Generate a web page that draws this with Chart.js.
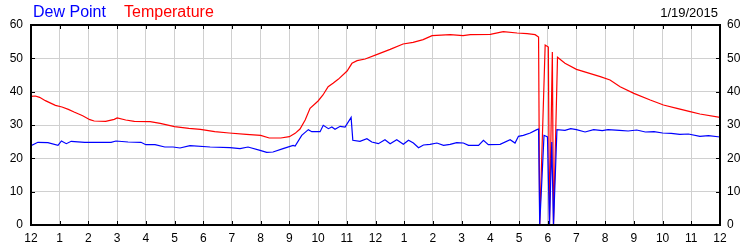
<!DOCTYPE html>
<html>
<head>
<meta charset="utf-8">
<script src="https://cdn.jsdelivr.net/npm/chart.js@4"></script>
<style>
  body { margin: 0; background: #fff; }
  #wrap { position: relative; width: 750px; height: 250px; }
  .lbl { position: absolute; font-family: "Liberation Sans", Arial, sans-serif; white-space: nowrap; }
  #dew { left: 33px; top: 4px; font-size: 16px; line-height: 16px; color: #0000ff; }
  #temp { left: 124px; top: 4px; font-size: 16px; line-height: 16px; color: #ff0000; }
  #date { right: 32px; top: 6px; font-size: 13px; line-height: 13px; color: #000; }
</style>
</head>
<body>
<div id="wrap">
  <canvas id="chart" width="750" height="250"></canvas>
  <div class="lbl" id="dew">Dew Point</div>
  <div class="lbl" id="temp">Temperature</div>
  <div class="lbl" id="date">1/19/2015</div>
</div>
<script>
// Tick labels
const hourLabels = ['12', '1', '2', '3', '4', '5', '6', '7', '8', '9', '10', '11',
  '12', '1', '2', '3', '4', '5', '6', '7', '8', '9', '10', '11', '12'];
const yTicks = [0, 10, 20, 30, 40, 50, 60];

// Temperature series (hours since midnight, °F)
const tempHours = [0, 0.15, 0.3, 0.5, 0.85, 1.08, 1.3, 1.5, 1.8, 2.05, 2.2, 2.6, 2.9, 3.0,
  3.3, 3.6, 4.15, 4.5, 5.0, 5.5, 5.9, 6.4, 6.9, 7.5, 8.0, 8.3, 8.7, 9.0, 9.2, 9.37, 9.55,
  9.72, 10.0, 10.17, 10.35, 10.52, 10.7, 11.01, 11.18, 11.36, 11.64, 12.06, 12.51, 12.96,
  13.31, 13.66, 13.97, 14.6, 15.05, 15.3, 16.0, 16.45, 16.93, 17.28, 17.56, 17.68, 17.72,
  17.91, 18.02, 18.06, 18.16, 18.2, 18.34, 18.6, 19.0, 19.83, 20.17, 20.52, 21.0, 21.57,
  22.03, 22.5, 22.96, 23.3, 24];
const tempValues = [38.6, 38.7, 38.3, 37.3, 35.9, 35.4, 34.7, 33.9, 32.8, 31.6, 31.2, 31.1,
  31.7, 32.1, 31.5, 31.1, 31.0, 30.5, 29.5, 29.0, 28.7, 28.0, 27.6, 27.2, 26.9, 26.1, 26.1,
  26.5, 27.5, 28.8, 31.5, 35.0, 37.2, 39.0, 41.5, 42.5, 43.7, 46.2, 48.5, 49.3, 49.8, 51.2,
  52.7, 54.3, 54.8, 55.6, 56.8, 57.1, 56.8, 57.1, 57.2, 58.0, 57.6, 57.4, 57.1, 56.4, 0,
  54.0, 53.4, 0, 51.9, 0, 50.3, 48.5, 46.7, 44.5, 43.5, 41.5, 39.5, 37.5, 36.0, 35.0,
  34.0, 33.3, 32.3];

// Dew point series (hours since midnight, °F)
const dewHours = [0, 0.24, 0.59, 0.94, 1.06, 1.23, 1.4, 1.87, 2.79, 2.96, 3.38, 3.83, 4.0,
  4.32, 4.66, 4.95, 5.19, 5.54, 6.24, 6.93, 7.28, 7.56, 7.98, 8.21, 8.43, 8.78, 9.13, 9.2,
  9.43, 9.66, 9.78, 10.07, 10.18, 10.36, 10.48, 10.59, 10.77, 10.94, 11.15, 11.21, 11.46,
  11.7, 11.87, 12.1, 12.33, 12.51, 12.74, 12.97, 13.15, 13.32, 13.5, 13.67, 13.9, 14.14,
  14.37, 14.6, 14.83, 15.06, 15.24, 15.59, 15.76, 15.93, 16.34, 16.69, 16.86, 16.98, 17.15,
  17.39, 17.62, 17.68, 17.72, 17.87, 17.99, 18.06, 18.14, 18.2, 18.32, 18.6, 18.8, 19.0,
  19.3, 19.6, 19.9, 20.1, 20.5, 20.8, 21.1, 21.4, 21.7, 22.0, 22.3, 22.6, 22.9, 23.3, 23.6, 24];
const dewValues = [23.8, 24.8, 24.7, 23.9, 25.2, 24.4, 25.1, 24.8, 24.8, 25.2, 24.9, 24.8,
  24.1, 24.1, 23.4, 23.4, 23.1, 23.8, 23.4, 23.2, 22.9, 23.4, 22.4, 21.8, 21.9, 22.9, 23.9,
  23.7, 26.9, 28.6, 28.0, 28.0, 29.9, 28.9, 29.4, 28.7, 29.6, 29.4, 32.3, 25.4, 25.1, 25.9,
  24.9, 24.4, 25.6, 24.4, 25.6, 24.2, 25.4, 24.6, 23.2, 24.0, 24.2, 24.6, 23.9, 24.2, 24.7,
  24.6, 23.9, 23.9, 25.4, 24.1, 24.2, 25.6, 24.6, 26.6, 26.9, 27.6, 28.6, 28.8, 0, 26.9,
  26.4, 0, 24.9, 0, 28.6, 28.4, 28.9, 28.6, 27.9, 28.6, 28.3, 28.6, 28.4, 28.2, 28.5, 27.9,
  28.0, 27.6, 27.5, 27.2, 27.3, 26.6, 26.8, 26.4];

const font = { family: '"Liberation Sans", Arial, sans-serif', size: 12 };
const gridColor = '#d0d0d0';

// Black frame with short inward tick marks
const framePlugin = {
  id: 'frame',
  afterDraw(chart) {
    const ctx = chart.ctx;
    const area = chart.chartArea;
    const x = chart.scales.x;
    const y = chart.scales.y;
    ctx.save();
    ctx.strokeStyle = '#000';
    ctx.lineWidth = 1;
    ctx.beginPath();
    for (let h = 1; h < hourLabels.length - 1; h++) {
      const px = Math.round(x.getPixelForValue(h)) + 0.5;
      ctx.moveTo(px, area.top);
      ctx.lineTo(px, area.top + 4);
      ctx.moveTo(px, area.bottom);
      ctx.lineTo(px, area.bottom - 4);
    }
    for (let i = 1; i < yTicks.length - 1; i++) {
      const py = Math.round(y.getPixelForValue(yTicks[i])) + 0.5;
      ctx.moveTo(area.left, py);
      ctx.lineTo(area.left + 4, py);
      ctx.moveTo(area.right, py);
      ctx.lineTo(area.right - 4, py);
    }
    ctx.stroke();
    ctx.lineWidth = 2;
    ctx.strokeRect(area.left, area.top, area.right - area.left, area.bottom - area.top);
    ctx.restore();
  },
};

function toPoints(hours, values) {
  return hours.map((h, i) => ({ x: h, y: values[i] }));
}

new Chart(document.getElementById('chart'), {
  type: 'line',
  data: {
    datasets: [
      {
        label: 'Dew Point',
        data: toPoints(dewHours, dewValues),
        borderColor: '#0000ff',
        borderWidth: 1.2,
        pointRadius: 0,
        tension: 0,
        yAxisID: 'y',
      },
      {
        label: 'Temperature',
        data: toPoints(tempHours, tempValues),
        borderColor: '#ff0000',
        borderWidth: 1.2,
        pointRadius: 0,
        tension: 0,
        yAxisID: 'y',
      },
    ],
  },
  options: {
    responsive: false,
    animation: false,
    layout: { padding: { top: 25 } },
    plugins: {
      legend: { display: false },
      tooltip: { enabled: false },
    },
    scales: {
      x: {
        type: 'linear',
        min: 0,
        max: 24,
        afterBuildTicks: (scale) => {
          scale.ticks = hourLabels.map((_, i) => ({ value: i }));
        },
        ticks: {
          color: '#000',
          font: font,
          padding: 6,
          maxRotation: 0,
          autoSkip: false,
          callback: (value) => hourLabels[value],
        },
        grid: { color: gridColor, drawTicks: false },
        border: { display: false },
        afterFit: (scale) => { scale.height = 25; },
      },
      y: {
        position: 'left',
        min: 0,
        max: 60,
        ticks: { stepSize: 10, color: '#000', font: font, padding: 8 },
        grid: { color: gridColor, drawTicks: false },
        border: { display: false },
        afterFit: (scale) => { scale.width = 31; },
      },
      y2: {
        position: 'right',
        min: 0,
        max: 60,
        ticks: { stepSize: 10, color: '#000', font: font, padding: 7 },
        grid: { display: false, drawTicks: false },
        border: { display: false },
        afterFit: (scale) => { scale.width = 30; },
      },
    },
  },
  plugins: [framePlugin],
});
</script>
</body>
</html>
